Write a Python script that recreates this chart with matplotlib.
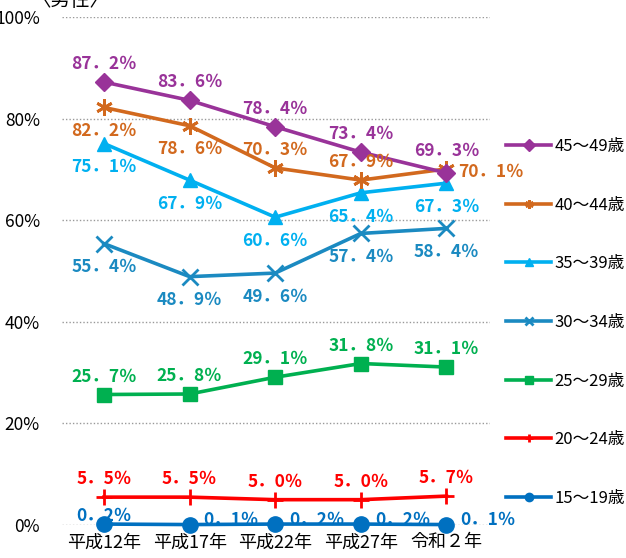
import numpy as np
import matplotlib.pyplot as plt

plt.rcParams['font.family'] = ['Noto Sans CJK JP', 'DejaVu Sans']

years = ["平成12年", "平成17年", "平成22年", "平成27年", "令和２年"]

age_labels = ["15～19歳", "20～24歳", "25～29歳", "30～34歳",
              "35～39歳", "40～44歳", "45～49歳"]

v15_19 = [0.2, 0.1, 0.2, 0.2, 0.1]
v20_24 = [5.5, 5.5, 5.0, 5.0, 5.7]
v25_29 = [25.7, 25.8, 29.1, 31.8, 31.1]
v30_34 = [55.4, 48.9, 49.6, 57.4, 58.4]
v35_39 = [75.1, 67.9, 60.6, 65.4, 67.3]
v40_44 = [82.2, 78.6, 70.3, 67.9, 70.1]
v45_49 = [87.2, 83.6, 78.4, 73.4, 69.3]

series = [v15_19, v20_24, v25_29, v30_34, v35_39, v40_44, v45_49]
colors = ["#0070C0", "#FF0000", "#00B050", "#1B8AC1",
          "#00B0F0", "#D2691E", "#993399"]
markers = ["o", "+", "s", "x", "^", (6, 2, 0), "D"]
msizes = [11, 12, 10, 11, 10, 12, 9]

# label placement per series/point: (dx, dy) in points
a = (0, 13)
b = (0, -17)
r = (30, 3)
offsets = [
    [(0, 6), r, r, r, r],
    [a, a, a, a, a],
    [a, a, a, a, a],
    [b, b, b, b, b],
    [b, b, b, b, b],
    [b, b, a, a, (32, -2)],
    [a, a, a, a, (0, 16)],
]

fig = plt.figure(figsize=(6.26, 5.58), dpi=100)
ax = fig.add_axes([0.099, 0.059, 0.684, 0.9105])

x = np.arange(len(years))
handles = []
for i, vals in enumerate(series):
    mew = 2 if markers[i] in ("+", "x", (6, 2, 0)) else 1
    h, = ax.plot(x, vals, color=colors[i], lw=2.6, marker=markers[i],
                 markersize=msizes[i], markeredgewidth=mew, clip_on=False,
                 label=age_labels[i], zorder=3)
    handles.append(h)
    for j, v in enumerate(vals):
        dx, dy = offsets[i][j]
        ax.annotate(f"{v:.1f}％".replace(".", "．"), (x[j], v),
                    xytext=(dx, dy), textcoords="offset points",
                    ha="center", va="center", color=colors[i],
                    fontsize=12.5, fontweight="bold", zorder=4)

ax.set_xlim(-0.49, 4.51)
ax.set_ylim(0, 100)
ax.set_yticks([0, 20, 40, 60, 80, 100])
ax.set_yticklabels(["0%", "20%", "40%", "60%", "80%", "100%"], fontsize=12.5)
ax.set_xticks(x)
ax.set_xticklabels(years, fontsize=13)
ax.tick_params(length=0, pad=16, axis="y")
ax.tick_params(length=0, pad=6, axis="x")
for s in ax.spines.values():
    s.set_visible(False)
ax.grid(axis="y", color="#999999", linestyle=(0, (1, 1.5)), lw=1)
ax.set_axisbelow(True)

leg = ax.legend(handles[::-1], age_labels[::-1], loc="upper left",
                bbox_to_anchor=(1.022, 0.775), frameon=False, fontsize=12,
                handlelength=2.7, labelspacing=2.5, handletextpad=0.2,
                borderaxespad=0)
for lh in leg.get_lines():
    lh.set_markersize(6)

fig.text(0.05, 1.0, "〈男性〉", fontsize=14, va="center", ha="left")

fig.savefig("out.png", dpi=100)
